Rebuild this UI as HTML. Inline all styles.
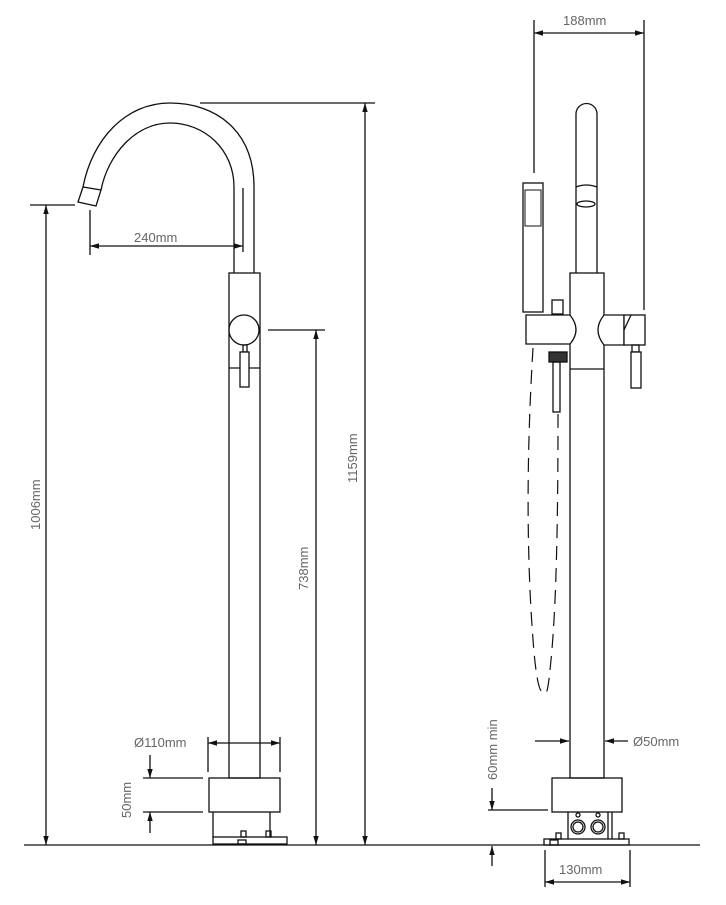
<!DOCTYPE html>
<html><head><meta charset="utf-8"><style>
html,body{margin:0;padding:0;background:#fff}
svg{display:block}
text{font-family:"Liberation Sans",sans-serif;font-size:13px;fill:#666}
</style></head><body>
<svg width="726" height="905" viewBox="0 0 726 905" xmlns="http://www.w3.org/2000/svg">
<defs>
<marker id="a" viewBox="0 0 10 10" refX="10" refY="5" markerWidth="9" markerHeight="9" orient="auto-start-reverse" markerUnits="userSpaceOnUse"><path d="M0,2 L10,5 L0,8 Z" fill="#111"/></marker>
</defs>
<g stroke="#111" stroke-width="1.3" fill="none">
<!-- ground -->
<line x1="24" y1="845" x2="700" y2="845"/>

<!-- LEFT FAUCET -->
<path d="M254,273 L254,187 C254,130 215,103 170,103 C125,103 92,140 83,187"/>
<path d="M234,273 L234,187 C234,150 205,123 170,123 C135,123 108,155 101,190"/>
<path d="M83,187 L78,202 L96,206 L101,190 Z"/>
<rect x="229" y="273" width="31" height="505"/>
<line x1="229" y1="368" x2="260" y2="368"/>
<circle cx="244" cy="330" r="15" fill="#fff"/>
<rect x="243" y="345" width="4" height="7"/>
<rect x="240" y="352" width="9" height="35" fill="#fff"/>
<rect x="209" y="778" width="71" height="34"/>
<line x1="213" y1="812" x2="213" y2="837"/>
<line x1="270" y1="812" x2="270" y2="837"/>
<rect x="213" y="837" width="74" height="7"/>
<rect x="241" y="831" width="5" height="6"/><rect x="266" y="831" width="5" height="6"/>
<rect x="238" y="840" width="8" height="4"/>

<!-- left dims -->
<line x1="200" y1="103" x2="375" y2="103"/>
<line x1="365" y1="845" x2="365" y2="103" marker-end="url(#a)" marker-start="url(#a)"/>
<line x1="268" y1="330" x2="325" y2="330"/>
<line x1="316" y1="845" x2="316" y2="330" marker-end="url(#a)" marker-start="url(#a)"/>
<line x1="30" y1="205" x2="75" y2="205"/>
<line x1="46" y1="845" x2="46" y2="205" marker-end="url(#a)" marker-start="url(#a)"/>
<line x1="90" y1="210" x2="90" y2="255"/>
<line x1="243" y1="188" x2="243" y2="252"/>
<line x1="90" y1="246" x2="243" y2="246" marker-end="url(#a)" marker-start="url(#a)"/>
<line x1="208" y1="737" x2="208" y2="772"/>
<line x1="280" y1="737" x2="280" y2="772"/>
<line x1="208" y1="743" x2="280" y2="743" marker-end="url(#a)" marker-start="url(#a)"/>
<line x1="143" y1="778" x2="203" y2="778"/>
<line x1="143" y1="812" x2="203" y2="812"/>
<line x1="150" y1="755" x2="150" y2="778" marker-end="url(#a)"/>
<line x1="150" y1="833" x2="150" y2="812" marker-end="url(#a)"/>

<!-- RIGHT FAUCET -->
<path d="M576,273 L576,114 A10.5,10.5 0 0 1 597,114 L597,273"/>
<path d="M576,187 Q586,183 597,187"/>
<ellipse cx="586" cy="204" rx="9" ry="3"/>
<rect x="570" y="273" width="34" height="505"/>
<line x1="570" y1="369" x2="604" y2="369"/>
<rect x="523" y="183" width="20" height="129" fill="#fff"/>
<rect x="525" y="190" width="16" height="36" stroke-width="1"/>
<path d="M526,315 L570,315 Q582,330 570,344 L526,344 Z" fill="#fff"/>
<path d="M604,315 L624,315 L624,345 L604,345 Q592,330 604,315 Z" fill="#fff"/>
<rect x="624" y="315" width="21" height="30" fill="#fff"/>
<path d="M624,330 L631,315"/>
<rect x="552" y="300" width="11" height="14"/>
<rect x="549" y="352" width="18" height="10" fill="#333"/>
<rect x="553" y="362" width="7" height="50"/>
<rect x="632" y="345" width="7" height="7"/>
<rect x="631" y="352" width="10" height="36" fill="#fff"/>
<g stroke-dasharray="14,8" stroke-width="1.2">
<path d="M533,348 C528,430 526,520 531,610 C534,660 537,688 542,692"/>
<path d="M558,414 C558,500 557,600 551,660 C549,680 548,690 546,693"/>
</g>
<rect x="552" y="778" width="70" height="34"/>
<line x1="568" y1="812" x2="568" y2="839"/>
<line x1="608" y1="812" x2="608" y2="839"/>
<line x1="612" y1="812" x2="612" y2="839"/>
<circle cx="578" cy="827" r="7"/><circle cx="578" cy="827" r="5"/>
<circle cx="598" cy="827" r="7"/><circle cx="598" cy="827" r="5"/>
<circle cx="578" cy="815" r="2"/><circle cx="598" cy="815" r="2"/>
<rect x="544" y="839" width="85" height="6"/>
<rect x="556" y="833" width="5" height="6"/><rect x="619" y="833" width="5" height="6"/>
<rect x="550" y="840" width="8" height="5"/>

<!-- right dims -->
<line x1="534" y1="20" x2="534" y2="173"/>
<line x1="644" y1="20" x2="644" y2="310"/>
<line x1="534" y1="33" x2="644" y2="33" marker-end="url(#a)" marker-start="url(#a)"/>
<line x1="535" y1="741" x2="569" y2="741" marker-end="url(#a)"/>
<line x1="628" y1="741" x2="605" y2="741" marker-end="url(#a)"/>
<line x1="488" y1="810" x2="548" y2="810"/>
<line x1="492" y1="788" x2="492" y2="810" marker-end="url(#a)"/>
<line x1="492" y1="866" x2="492" y2="846" marker-end="url(#a)"/>
<line x1="545" y1="850" x2="545" y2="887"/>
<line x1="630" y1="850" x2="630" y2="887"/>
<line x1="545" y1="882" x2="630" y2="882" marker-end="url(#a)" marker-start="url(#a)"/>
</g>

<text x="134" y="242">240mm</text>
<text x="134" y="747">Ø110mm</text>
<text x="633" y="746">Ø50mm</text>
<text x="559" y="874">130mm</text>
<text x="563" y="25">188mm</text>
<text transform="translate(40,530) rotate(-90)">1006mm</text>
<text transform="translate(357,483) rotate(-90)">1159mm</text>
<text transform="translate(308,590) rotate(-90)">738mm</text>
<text transform="translate(131,818) rotate(-90)">50mm</text>
<text transform="translate(497,780) rotate(-90)">60mm min</text>
</svg>
</body></html>
